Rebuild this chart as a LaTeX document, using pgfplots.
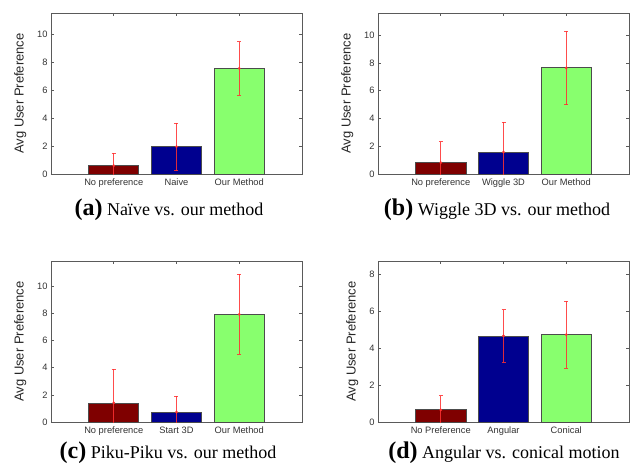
\documentclass[border=0pt]{standalone}
\usepackage{fontspec}
\setmainfont{Liberation Serif}
\setsansfont{Liberation Sans}
\usepackage{pgfplots}
\pgfplotsset{compat=1.18}
\definecolor{barred}{HTML}{7F0000}
\definecolor{barblue}{HTML}{00008F}
\definecolor{bargreen}{HTML}{88FF6E}
\definecolor{axgray}{HTML}{5A5A5A}
\definecolor{errred}{HTML}{FF3030}

\pgfplotsset{
  prefplot/.style={
    scale only axis, width=251pt, height=161pt,
    anchor=south west,
    xmin=0, xmax=4, ymin=0,
    xtick={1,2,3},
    tick align=inside,
    major tick length=3pt,
    axis line style={axgray, line width=0.8pt},
    every tick/.style={axgray, line width=0.6pt},
    ticklabel style={font=\sffamily\fontsize{9.3}{10}\selectfont, text=black!80},
    /pgf/number format/assume math mode=true,
    ylabel={Avg User Preference},
    ylabel style={font=\sffamily\fontsize{13}{14}\selectfont, text=black!85, yshift=4pt},
    xticklabel style={yshift=-1pt},
  },
  prefbar/.style={
    ybar, bar width=0.8, bar shift=0pt,
    draw=black!70, line width=0.7pt, fill=#1,
    mark=*, mark size=1pt, mark options={errred, fill=errred},
    error bars/.cd, y dir=both, y explicit,
    error bar style={errred, line width=0.7pt, opacity=0.85},
    error mark options={rotate=90, errred, mark size=2pt, line width=0.6pt},
  },
}

\begin{document}
\begin{tikzpicture}
\useasboundingbox (0pt,0pt) rectangle (630pt,-467pt);

% (a)
\begin{axis}[prefplot, at={(51pt,-174pt)}, ymax=11.5, ytick={0,2,...,10},
  xticklabels={No preference,Naive,Our Method}]
\addplot[prefbar=barred] coordinates {(1,0.6) +- (0,0.9)};
\addplot[prefbar=barblue] coordinates {(2,1.95) +- (0,1.7)};
\addplot[prefbar=bargreen] coordinates {(3,7.55) +- (0,1.9)};
\end{axis}
\node[anchor=base] at (169pt,-215pt) {\textbf{\fontsize{24}{26}\selectfont (a)}\fontsize{18}{20}\selectfont\ Naïve vs. our method};

% (b)
\begin{axis}[prefplot, at={(378pt,-174pt)}, ymax=11.6, ytick={0,2,...,10},
  xticklabels={No preference,Wiggle 3D,Our Method}]
\addplot[prefbar=barred] coordinates {(1,0.82) +- (0,1.52)};
\addplot[prefbar=barblue] coordinates {(2,1.58) +- (0,2.17)};
\addplot[prefbar=bargreen] coordinates {(3,7.65) +- (0,2.66)};
\end{axis}
\node[anchor=base] at (497pt,-215pt) {\textbf{\fontsize{24}{26}\selectfont (b)}\fontsize{18}{20}\selectfont\ Wiggle 3D vs. our method};

% (c)
\begin{axis}[prefplot, at={(51pt,-422pt)}, ymax=11.85, ytick={0,2,...,10},
  xticklabels={No preference,Start 3D,Our Method}]
\addplot[prefbar=barred] coordinates {(1,1.4) +- (0,2.47)};
\addplot[prefbar=barblue] coordinates {(2,0.73) +- (0,1.16)};
\addplot[prefbar=bargreen] coordinates {(3,7.92) +- (0,2.95)};
\end{axis}
\node[anchor=base] at (168pt,-458pt) {\textbf{\fontsize{24}{26}\selectfont (c)}\fontsize{18}{20}\selectfont\ Piku-Piku vs. our method};

% (d)
\begin{axis}[prefplot, at={(378pt,-422pt)}, ymax=8.72, ytick={0,2,...,8},
  xticklabels={No Preference,Angular,Conical}]
\addplot[prefbar=barred] coordinates {(1,0.66) +- (0,0.77)};
\addplot[prefbar=barblue] coordinates {(2,4.66) +- (0,1.43)};
\addplot[prefbar=bargreen] coordinates {(3,4.73) +- (0,1.83)};
\end{axis}
\node[anchor=base] at (504pt,-458pt) {\textbf{\fontsize{24}{26}\selectfont (d)}\fontsize{18}{20}\selectfont\ Angular vs. conical motion};

\end{tikzpicture}
\end{document}
